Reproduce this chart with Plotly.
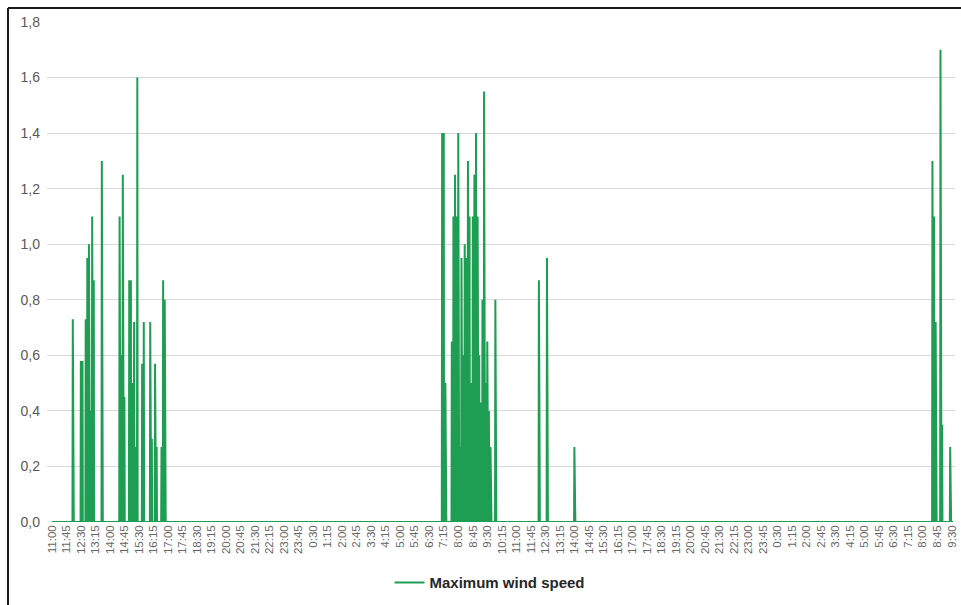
import pandas as pd
import plotly.graph_objects as go

# ---- data (minute readings, zero elsewhere) ----
series_name = "Maximum wind speed"

day1_times = ["12:05", "12:30", "12:35", "12:45", "12:50", "12:55", "13:00", "13:05", "13:10",
              "13:35", "14:30", "14:35", "14:40", "14:45", "15:00", "15:05", "15:10", "15:15",
              "15:20", "15:25", "15:40", "15:45", "16:05", "16:10", "16:20", "16:25", "16:40",
              "16:45", "16:50"]
day1_values = [0.73, 0.58, 0.58, 0.73, 0.95, 1.0, 0.4, 1.1, 0.87,
               1.3, 1.1, 0.6, 1.25, 0.45, 0.87, 0.87, 0.5, 0.72,
               0.27, 1.6, 0.57, 0.72, 0.72, 0.3, 0.57, 0.27, 0.27,
               0.87, 0.8]

day2_times = ["07:10", "07:15", "07:20", "07:40", "07:45", "07:50", "07:55", "08:00", "08:05",
              "08:10", "08:15", "08:20", "08:25", "08:30", "08:35", "08:40", "08:45", "08:50",
              "08:55", "09:00", "09:05", "09:10", "09:15", "09:20", "09:25", "09:30", "09:35",
              "09:40", "09:55", "12:10", "12:35", "14:00"]
day2_values = [1.4, 1.4, 0.5, 0.65, 1.1, 1.25, 1.1, 1.4, 0.27,
               0.95, 0.6, 1.0, 0.95, 1.3, 1.1, 0.5, 1.1, 1.25,
               1.4, 1.1, 0.6, 0.43, 0.8, 1.55, 0.5, 0.65, 0.4,
               0.27, 0.8, 0.87, 0.95, 0.27]

day3_times = ["08:30", "08:35", "08:40", "08:55", "09:00", "09:25"]
day3_values = [1.3, 1.1, 0.72, 1.7, 0.35, 0.27]

first_reading = "11:00"   # day 1
last_reading = "09:35"    # day 3
y_ticks = [0.0, 0.2, 0.4, 0.6, 0.8, 1.0, 1.2, 1.4, 1.6, 1.8]

# ---- build the series ----
base = pd.Timestamp("2024-05-01")
start = base + pd.Timedelta(first_reading + ":00")
end = base + pd.Timedelta(days=2) + pd.Timedelta(last_reading + ":00")
times = pd.date_range(start, end, freq="1min")
values = pd.Series(0.0, index=times)
for day, (tl, vl) in enumerate([(day1_times, day1_values),
                                (day2_times, day2_values),
                                (day3_times, day3_values)]):
    for t, v in zip(tl, vl):
        values[base + pd.Timedelta(days=day) + pd.Timedelta(t + ":00")] = v

W, H = 961, 605
L, R, T, B = 47, 6, 22, 80
pw, ph = W - L - R, H - T - B

def px_x(px):
    return (px - L) / pw

def px_y(py):
    return (H - B - py) / ph

line_color = "#1d9e52"
font_family = "Liberation Sans, Arial, sans-serif"

fig = go.Figure()
fig.add_trace(go.Scatter(
    x=values.index, y=values.values, mode="lines",
    line=dict(color=line_color, width=2),
    name=series_name, showlegend=True,
))

fig.update_layout(
    width=W, height=H,
    margin=dict(l=L, r=R, t=T, b=B),
    paper_bgcolor="white", plot_bgcolor="white",
    separators=",.",
    font=dict(family=font_family, color="#595959"),
    showlegend=True,
    legend=dict(orientation="h", x=px_x(490), xanchor="center",
                y=px_y(586), yanchor="middle",
                font=dict(size=15, color="#262626", family=font_family, weight="bold"),
                bgcolor="rgba(0,0,0,0)"),
    xaxis=dict(type="date",
               range=[start - pd.Timedelta(minutes=15), end + pd.Timedelta(minutes=5)],
               tick0=start, dtick=45 * 60 * 1000, tickformat="%-H:%M",
               tickangle=-90, tickfont=dict(size=11.5, color="#666666"),
               showgrid=False, zeroline=False, showline=False, ticks="",
               automargin=False),
    yaxis=dict(range=[0, 1.8], tickvals=y_ticks, tickformat=".1f",
               tickfont=dict(size=14, color="#595959"),
               ticklabelstandoff=6,
               gridcolor="#d9d9d9", gridwidth=1,
               zeroline=False, showline=False, ticks="", automargin=False),
)

# outer frame of the picture
fig.add_shape(type="line", xref="paper", yref="paper",
              x0=px_x(8), x1=px_x(8), y0=px_y(8), y1=px_y(610),
              line=dict(color="#1a1a1a", width=2))
fig.add_shape(type="line", xref="paper", yref="paper",
              x0=px_x(8), x1=px_x(970), y0=px_y(8), y1=px_y(8),
              line=dict(color="#1a1a1a", width=2))

fig.write_html("out.html",
               config={"displayModeBar": False},
               post_script="document.body.style.margin='0';document.body.style.overflow='hidden';")
